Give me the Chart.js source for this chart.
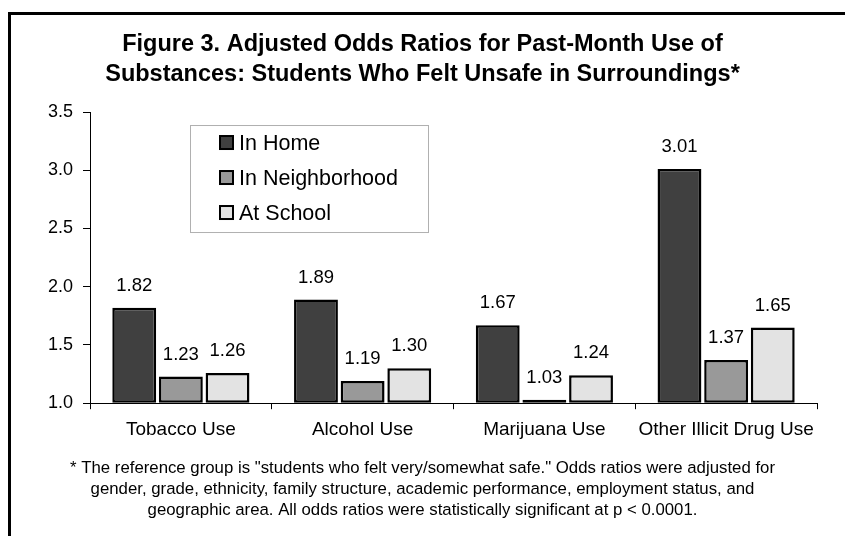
<!DOCTYPE html>
<html>
<head>
<meta charset="utf-8">
<script src="https://cdn.jsdelivr.net/npm/chart.js@4.4.1/dist/chart.umd.min.js"></script>
<style>
    html, body {
        margin: 0;
        padding: 0;
        background: #fff;
        overflow: hidden;
    }
    #wrap {
        position: relative;
        width: 845px;
        height: 536px;
    }
    #frame {
        position: absolute;
        left: 8px;
        top: 12px;
        width: 900px;
        height: 600px;
        border: 3px solid #000;
        pointer-events: none;
    }
    canvas {
        position: absolute;
        left: 0;
        top: 0;
    }
</style>
</head>
<body>
<div id="wrap">
    <canvas id="oddsChart" width="845" height="536"></canvas>
    <div id="frame"></div>
</div>
<script>
const categories = ['Tobacco Use', 'Alcohol Use', 'Marijuana Use', 'Other Illicit Drug Use'];
const seriesNames = ['In Home', 'In Neighborhood', 'At School'];
const inHome = [1.82, 1.89, 1.67, 3.01];
const inNeighborhood = [1.23, 1.19, 1.03, 1.37];
const atSchool = [1.26, 1.30, 1.24, 1.65];
const yTicks = [1.0, 1.5, 2.0, 2.5, 3.0, 3.5];

const titleLines = [
    'Figure 3. Adjusted Odds Ratios for Past-Month Use of',
    'Substances: Students Who Felt Unsafe in Surroundings*',
];
const noteLines = [
    '* The reference group is "students who felt very/somewhat safe." Odds ratios were adjusted for',
    'gender, grade, ethnicity, family structure, academic performance, employment status, and',
    'geographic area. All odds ratios were statistically significant at p < 0.0001.',
];

const fills = ['#404040', '#999999', '#e3e3e3'];
const fontFamily = 'Arial, "Liberation Sans", Helvetica, sans-serif';

// value printed above every bar
const valueLabels = {
    id: 'valueLabels',
    afterDatasetsDraw(chart) {
        const ctx = chart.ctx;
        ctx.save();
        ctx.font = `18.5px ${fontFamily}`;
        ctx.fillStyle = '#000';
        ctx.textAlign = 'center';
        ctx.textBaseline = 'middle';
        chart.data.datasets.forEach((ds, i) => {
            chart.getDatasetMeta(i).data.forEach((bar, j) => {
                ctx.fillText(ds.data[j].toFixed(2), bar.x, bar.y - 22);
            });
        });
        ctx.restore();
    },
};

// boxed legend sitting inside the plot area
const boxLegend = {
    id: 'boxLegend',
    afterDraw(chart) {
        const ctx = chart.ctx;
        const area = chart.chartArea;
        const left = area.left + 100;
        const top = area.top + 13;
        const w = 238;
        const h = 107;
        ctx.save();
        ctx.fillStyle = '#fff';
        ctx.fillRect(left, top, w, h);
        ctx.strokeStyle = '#b0b0b0';
        ctx.lineWidth = 1;
        ctx.strokeRect(left + 0.5, top + 0.5, w, h);
        ctx.font = `21.5px ${fontFamily}`;
        ctx.textBaseline = 'middle';
        chart.data.datasets.forEach((ds, i) => {
            const cy = top + 18 + i * 35;
            ctx.fillStyle = ds.backgroundColor;
            ctx.fillRect(left + 30, cy - 7, 13, 13);
            ctx.strokeStyle = '#000';
            ctx.lineWidth = 2;
            ctx.strokeRect(left + 30, cy - 7, 13, 13);
            ctx.fillStyle = '#000';
            ctx.fillText(ds.label, left + 49, cy + 1);
        });
        ctx.restore();
    },
};

const makeSet = (label, data, color) => ({
    label,
    data,
    backgroundColor: color,
    borderColor: '#000',
    borderWidth: 2.5,
    borderSkipped: false,
    base: 1,
    categoryPercentage: 0.77,
    barPercentage: 0.94,
});

new Chart(document.getElementById('oddsChart'), {
    type: 'bar',
    data: {
        labels: categories,
        datasets: [
            makeSet(seriesNames[0], inHome, fills[0]),
            makeSet(seriesNames[1], inNeighborhood, fills[1]),
            makeSet(seriesNames[2], atSchool, fills[2]),
        ],
    },
    options: {
        responsive: false,
        animation: false,
        layout: {
            padding: { left: 19, right: 19, top: 0, bottom: 0 },
        },
        plugins: {
            legend: { display: false },
            tooltip: { enabled: false },
            title: {
                display: true,
                text: titleLines,
                color: '#000',
                font: { family: fontFamily, size: 23.5, weight: 'bold', lineHeight: 1.277 },
                padding: { top: 30, bottom: 22 },
            },
            subtitle: {
                display: true,
                position: 'bottom',
                text: noteLines,
                color: '#000',
                font: { family: fontFamily, size: 16.8, lineHeight: 1.25 },
                padding: { top: 8, bottom: 15 },
            },
        },
        scales: {
            x: {
                grid: {
                    offset: true,
                    drawOnChartArea: false,
                    drawTicks: true,
                    tickLength: 6,
                    color: '#000',
                },
                border: { color: '#000', width: 1 },
                ticks: {
                    color: '#000',
                    padding: 9,
                    maxRotation: 0,
                    font: { family: fontFamily, size: 19 },
                },
            },
            y: {
                min: 1,
                max: 3.5,
                afterFit(scale) {
                    scale.width = 71;
                },
                afterBuildTicks(scale) {
                    scale.ticks = yTicks.map((v) => ({ value: v }));
                },
                grid: {
                    drawOnChartArea: false,
                    drawTicks: true,
                    tickLength: 7,
                    color: '#000',
                },
                border: { color: '#000', width: 1 },
                ticks: {
                    color: '#000',
                    padding: 10,
                    font: { family: fontFamily, size: 18 },
                    callback: (v) => Number(v).toFixed(1),
                },
            },
            // empty right gutter so the titles stay centred on the page
            gutter: {
                type: 'linear',
                position: 'right',
                grid: { display: false },
                border: { display: false },
                ticks: { display: false },
                afterFit(scale) {
                    scale.width = 9;
                },
            },
        },
    },
    plugins: [valueLabels, boxLegend],
});
</script>
</body>
</html>
